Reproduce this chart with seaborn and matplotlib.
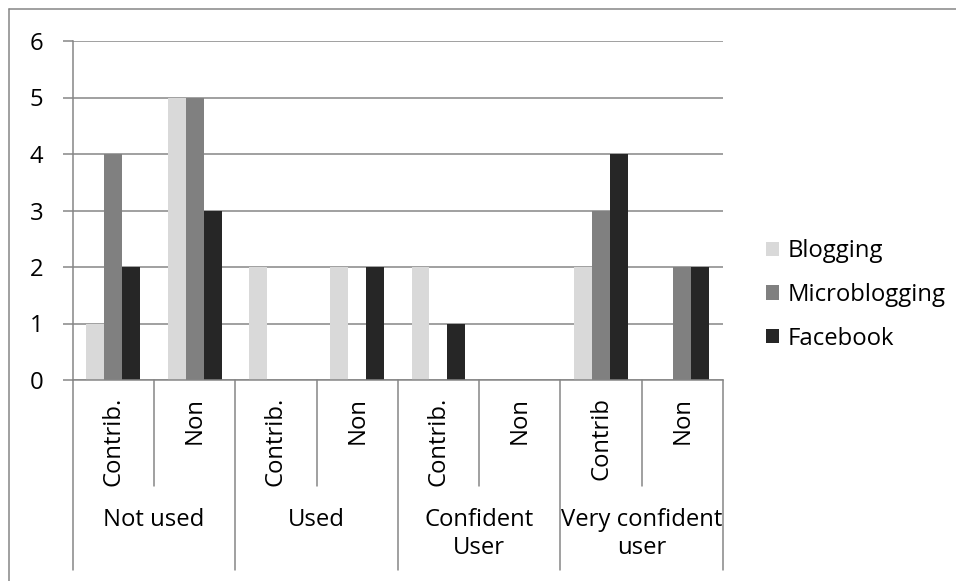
import matplotlib
matplotlib.use("Agg")
import matplotlib.pyplot as plt
from matplotlib.lines import Line2D
import seaborn as sns
import pandas as pd

# chart data
groups = ["Not used", "Used", "Confident\nUser", "Very confident\nuser"]
sub_labels = ["Contrib.", "Non", "Contrib.", "Non", "Contrib.", "Non", "Contrib", "Non"]
series = ["Blogging", "Microblogging", "Facebook"]
blogging = [1, 5, 2, 2, 2, 0, 2, 0]
microblogging = [4, 5, 0, 0, 0, 0, 3, 2]
facebook = [2, 3, 0, 2, 1, 0, 4, 2]
colors = ["#d9d9d9", "#808080", "#262626"]
y_ticks = [0, 1, 2, 3, 4, 5, 6]

GRID = "#868686"
FS = 17.2

sns.set_theme(style="white")
plt.rcParams["font.family"] = ["Open Sans", "DejaVu Sans"]
plt.rcParams["text.color"] = "black"
plt.rcParams["xtick.color"] = "black"
plt.rcParams["ytick.color"] = "black"

# long format table, one unique key per category slot
keys = [f"{groups[i // 2]}|{s}|{i}" for i, s in enumerate(sub_labels)]
rows = []
for name, vals in zip(series, [blogging, microblogging, facebook]):
    for k, v in zip(keys, vals):
        rows.append({"cat": k, "series": name, "value": v})
df = pd.DataFrame(rows)

fig = plt.figure(figsize=(9.56, 5.81), dpi=100)
ax = fig.add_axes([72.7 / 956, 1 - 380 / 581, (723 - 72.7) / 956, (380 - 41) / 581])

sns.barplot(data=df, x="cat", y="value", hue="series", order=keys,
            hue_order=series, palette=colors, width=0.664, gap=0,
            linewidth=0, saturation=1, ax=ax)

handles, labels = ax.get_legend_handles_labels()
ax.get_legend().remove()

ax.set_ylim(0, 6)
ax.set_xlim(-0.5, len(keys) - 0.5)
ax.set_yticks(y_ticks)
ax.set_yticklabels([str(t) for t in y_ticks], fontsize=FS)
ax.set_xticks(range(len(keys)))
ax.set_xticklabels(sub_labels, rotation=90, fontsize=FS)
ax.set_xlabel("")
ax.set_ylabel("")

ax.yaxis.grid(True, color=GRID, linewidth=1.1)
ax.set_axisbelow(True)
for side in ["top", "right"]:
    ax.spines[side].set_visible(False)
for side in ["left", "bottom"]:
    ax.spines[side].set_color(GRID)
    ax.spines[side].set_linewidth(1.1)
ax.tick_params(axis="y", length=7.2, width=1.1, color=GRID, labelcolor="black",
               pad=14, direction="out", left=True)
ax.tick_params(axis="x", length=0, pad=12, labelcolor="black")

# category separators below the axis
h = 339.0
trans = ax.get_xaxis_transform()
for i in range(len(keys) + 1):
    x = i - 0.5
    bottom = -(570 - 380) / h if i % 2 == 0 else -(486 - 380) / h
    ax.plot([x, x], [0, bottom], color=GRID, linewidth=1.1, transform=trans, clip_on=False)

for j, g in enumerate(groups):
    ax.text(2 * j + 0.5, -(508 - 380) / h, g, transform=trans, ha="center", va="top",
            fontsize=FS, color="black", multialignment="center", linespacing=1.2)

fig.legend(handles, labels, loc="center left", bbox_to_anchor=(766 / 956, 1 - 295 / 581),
           frameon=False, fontsize=FS, handlelength=0.55, handleheight=0.55,
           handletextpad=0.35, labelspacing=0.82, borderpad=0, borderaxespad=0)

# outer chart border (only left and top edges visible in frame)
fig.add_artist(Line2D([9 / 956, 9 / 956], [0, 1 - 8.5 / 581], color=GRID, linewidth=1.1))
fig.add_artist(Line2D([9 / 956, 1], [1 - 8.5 / 581, 1 - 8.5 / 581], color=GRID, linewidth=1.1))

fig.savefig("out.png", dpi=100)
